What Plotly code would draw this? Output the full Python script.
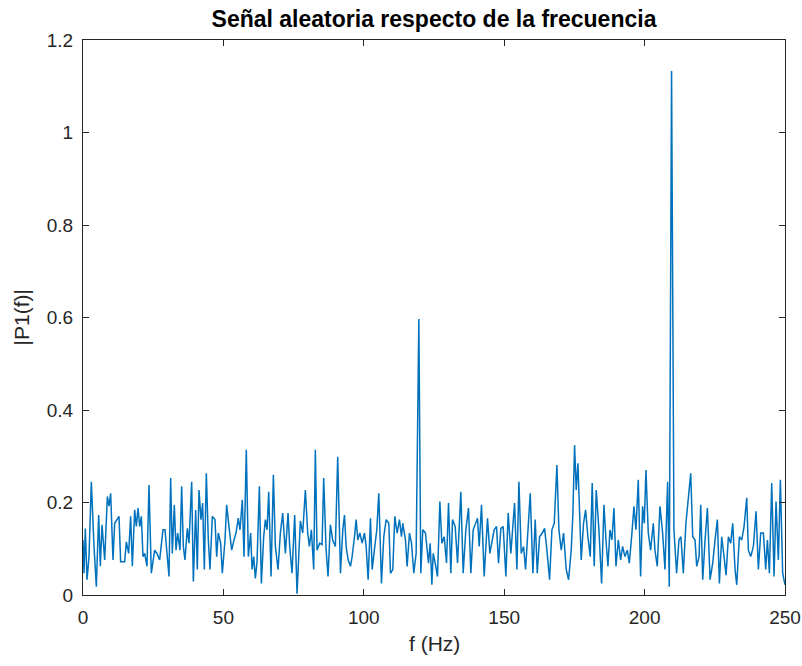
import plotly.graph_objects as go

# Frequency (Hz) and single-sided amplitude |P1(f)|
freq = [
    0.0, 0.36, 0.83, 1.43, 2.14, 2.97, 3.92, 4.75, 5.58, 6.17, 6.77, 7.72, 8.67, 9.26, 9.85,
    10.68, 11.28, 12.23, 12.82, 13.41, 14.24, 14.84, 15.43, 16.26, 16.97, 17.57, 18.4, 18.99,
    19.59, 20.18, 20.77, 21.37, 21.96, 22.79, 23.5, 24.33, 25.52, 26.35, 27.3, 28.49,
    29.2, 29.79, 30.62, 31.22, 31.81, 32.52, 33.12, 33.71, 34.54, 35.14, 35.73, 36.32, 37.15,
    37.75, 38.7, 39.29, 40.12, 40.71, 41.31, 42.02, 42.61, 43.21, 43.92, 44.63, 45.22, 46.06,
    47.01, 47.6, 48.19, 49.02, 49.62, 50.57, 51.16, 51.99, 52.94, 53.77, 54.48, 55.31, 55.91,
    56.74, 57.33, 58.16, 58.88, 59.71,
    60.2, 60.79, 61.39, 61.98, 62.81, 63.52, 64.35, 64.95, 65.54, 66.14, 66.97, 67.8, 68.51,
    69.46, 70.29, 71.12, 72.07, 73.02, 73.61, 74.44, 75.39, 76.22, 77.41, 78.24, 79.19, 80.02,
    80.62, 81.33, 82.16, 82.75, 83.35, 84.3, 85.13, 85.72, 86.55, 87.26, 88.09, 88.92, 89.88,
    90.71,
    91.69, 92.52, 93.12, 93.71, 94.42, 95.25, 95.85, 96.68, 97.27, 97.87, 98.58, 99.41, 100.24,
    100.83, 101.55, 102.38, 102.97, 103.92, 104.63, 105.34, 106.29, 107.12, 107.96, 108.91,
    109.5, 110.33, 111.04, 111.87, 112.7, 113.42, 113.89, 114.84, 115.43, 116.26, 116.98,
    117.81, 118.64, 119.6, 120.3, 121.01, 121.96,
    123.05, 123.64, 124.24, 124.71, 125.42, 126.25, 127.09, 127.8, 128.63, 129.46, 130.17,
    131.0, 131.6, 132.55, 133.38, 134.56, 135.39, 136.34, 137.29, 138.12, 138.96, 139.67,
    140.5, 141.09, 141.92, 142.87, 144.06, 144.89, 145.6, 146.43, 147.26, 147.98, 148.81,
    149.64, 150.59, 151.42, 152.37,
    153.69, 154.52, 155.24, 156.07, 156.9, 157.61, 158.44, 159.27, 160.22, 161.05, 161.77,
    162.6, 163.55, 164.38, 165.21, 166.16, 166.99, 167.82, 168.77, 169.48, 170.31, 171.14,
    172.09, 172.92, 173.87, 174.47, 175.06, 175.65, 176.25, 176.84, 177.43, 178.26, 178.98,
    179.81, 180.64, 181.35, 182.06, 182.78, 183.73,
    184.69, 185.52, 186.24, 186.95, 187.66, 188.37, 189.09, 189.8, 190.63, 191.46, 192.17,
    193.0, 193.83, 194.55, 195.38, 196.21, 196.92, 197.75, 198.58, 199.29, 199.89, 200.48,
    201.31, 202.14, 203.09, 203.69, 204.52, 205.47, 206.42, 207.25, 208.2, 208.79, 209.6,
    210.45, 211.4, 212.23, 212.94, 213.78, 214.72, 215.56,
    216.42, 217.14, 217.97, 218.56, 219.39, 219.99, 220.7, 221.53, 222.36, 223.31, 224.26,
    225.09, 225.92, 226.63, 227.46, 228.29, 229.01, 229.84, 230.67, 231.38, 232.21, 232.81,
    233.75, 234.59, 235.42, 236.37, 236.96, 237.79, 238.74, 239.69, 240.52, 241.35, 242.3,
    243.13, 243.73, 244.44, 245.27, 246.1, 246.81, 247.64, 248.35, 249.17, 250.0,
]

amplitude = [
    0.119, 0.047, 0.144, 0.033, 0.083, 0.245, 0.105, 0.018, 0.173, 0.062, 0.152, 0.076, 0.213,
    0.192, 0.22, 0.076, 0.155, 0.166, 0.17, 0.072, 0.072, 0.072, 0.115, 0.09, 0.17, 0.062,
    0.184, 0.148, 0.188, 0.148, 0.17, 0.083, 0.09, 0.062, 0.238, 0.047, 0.097, 0.09, 0.076,
    0.141,
    0.141, 0.105, 0.04, 0.253, 0.09, 0.195, 0.097, 0.134, 0.097, 0.235, 0.105, 0.076, 0.144,
    0.112, 0.245, 0.029, 0.184, 0.055, 0.227, 0.163, 0.199, 0.055, 0.263, 0.119, 0.055, 0.17,
    0.163, 0.083, 0.134, 0.112, 0.047, 0.119, 0.195, 0.148, 0.097, 0.119, 0.134, 0.166, 0.141,
    0.206, 0.083, 0.314, 0.083, 0.134,
    0.055, 0.083, 0.036, 0.072, 0.235, 0.025, 0.126, 0.163, 0.141, 0.223, 0.04, 0.26, 0.105,
    0.055, 0.134, 0.177, 0.09, 0.177, 0.105, 0.047, 0.173, 0.003, 0.16, 0.134, 0.227, 0.134,
    0.105, 0.141, 0.055, 0.314, 0.097, 0.112, 0.109, 0.253, 0.101, 0.04, 0.152, 0.119, 0.105,
    0.299,
    0.047, 0.141, 0.173, 0.105, 0.076, 0.062, 0.083, 0.126, 0.163, 0.119, 0.134, 0.112, 0.134,
    0.105, 0.033, 0.166, 0.055, 0.105, 0.141, 0.22, 0.025, 0.126, 0.163, 0.155,
    0.047, 0.055, 0.17, 0.134, 0.163, 0.126, 0.155, 0.119, 0.062, 0.134, 0.112,
    0.047, 0.09, 0.597, 0.047, 0.141, 0.134,
    0.069, 0.112, 0.022, 0.09, 0.069, 0.04, 0.202, 0.112, 0.126, 0.069, 0.199,
    0.047, 0.163, 0.148, 0.069, 0.223, 0.047, 0.141, 0.188, 0.047, 0.141, 0.155,
    0.166, 0.105, 0.195, 0.04, 0.166, 0.09, 0.112, 0.141, 0.148, 0.069, 0.144,
    0.148, 0.04, 0.177, 0.09,
    0.199, 0.055, 0.245, 0.09, 0.105, 0.055, 0.152, 0.22, 0.047, 0.163, 0.047,
    0.126, 0.134, 0.144, 0.097, 0.033, 0.141, 0.155, 0.281, 0.141, 0.097, 0.134,
    0.055, 0.033, 0.097, 0.177, 0.324, 0.227, 0.285, 0.184, 0.076, 0.155, 0.184,
    0.126, 0.083, 0.242, 0.062, 0.227, 0.141,
    0.025, 0.195, 0.119, 0.062, 0.141, 0.119, 0.188, 0.062, 0.119, 0.076, 0.105,
    0.083, 0.097, 0.069, 0.126, 0.192, 0.141, 0.249, 0.04, 0.192, 0.155, 0.27,
    0.134, 0.097, 0.155, 0.097, 0.062, 0.192, 0.134, 0.055, 0.245, 0.018, 1.133,
    0.141, 0.047, 0.119, 0.126, 0.047, 0.155, 0.213,
    0.263, 0.126, 0.119, 0.062, 0.083, 0.195, 0.033, 0.119, 0.188, 0.033, 0.069,
    0.119, 0.163, 0.025, 0.126, 0.083, 0.043, 0.126, 0.112, 0.155, 0.055, 0.022,
    0.126, 0.119, 0.148, 0.21, 0.097, 0.083, 0.105, 0.181, 0.055, 0.134, 0.134,
    0.055, 0.119, 0.047, 0.242, 0.04, 0.202, 0.076, 0.249, 0.047, 0.022,
]

x_ticks = [0, 50, 100, 150, 200, 250]
y_ticks = [0, 0.2, 0.4, 0.6, 0.8, 1, 1.2]
y_tick_labels = ["0", "0.2", "0.4", "0.6", "0.8", "1", "1.2"]

title_text = "Señal aleatoria respecto de la frecuencia"
x_label = "f (Hz)"
y_label = "|P1(f)|"

axis_color = "#262626"
font_family = "Liberation Sans, Arial, sans-serif"

W, H = 802, 666
L, R, T, B = 83, 17, 40, 71
plot_w, plot_h = W - L - R, H - T - B

fig = go.Figure()
fig.add_trace(go.Scatter(
    x=freq, y=amplitude, mode="lines",
    line=dict(color="#0072BD", width=1.5),
    hoverinfo="skip", showlegend=False,
))

axis_common = dict(
    showgrid=False, zeroline=False, showline=True, linecolor=axis_color, linewidth=1,
    mirror="ticks", ticks="inside", ticklen=6, tickcolor=axis_color, tickwidth=1,
    tickfont=dict(size=19, color=axis_color), automargin=False, ticklabelstandoff=5,
)

fig.update_layout(
    width=W, height=H,
    margin=dict(l=L, r=R, t=T, b=B, autoexpand=False),
    paper_bgcolor="white", plot_bgcolor="white",
    font=dict(family=font_family, color=axis_color, size=19),
    title=dict(
        text="<b>" + title_text + "</b>",
        x=(L + plot_w / 2) / W, xanchor="center",
        y=1 - 19 / H, yanchor="middle",
        font=dict(family=font_family, size=23, color="#000000"),
    ),
    xaxis=dict(range=[0, 250], tickvals=x_ticks, ticktext=[str(v) for v in x_ticks], **axis_common),
    yaxis=dict(range=[0, 1.2], tickvals=y_ticks, ticktext=y_tick_labels, **axis_common),
    annotations=[
        dict(text=x_label, xref="paper", yref="paper", x=0.5, y=-(643 - (T + plot_h)) / plot_h,
             xanchor="center", yanchor="middle", showarrow=False,
             font=dict(size=21, color=axis_color)),
        dict(text=y_label, xref="paper", yref="paper", x=(21 - L) / plot_w, y=0.5,
             xanchor="center", yanchor="middle", textangle=-90, showarrow=False,
             font=dict(size=21, color=axis_color)),
    ],
)

fig.write_html("out.html")
